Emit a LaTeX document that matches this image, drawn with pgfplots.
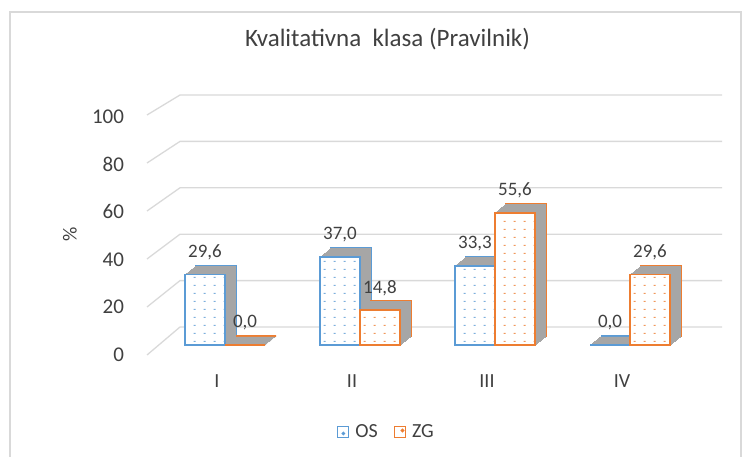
\documentclass[border=0pt]{standalone}
\usepackage{pgfplots}
\pgfplotsset{compat=1.18}
\usepackage{pgfplotstable}
\usepackage{fontspec}
\setmainfont{Carlito}
\usetikzlibrary{patterns.meta}
\definecolor{oscol}{HTML}{5B9BD5}
\definecolor{zgcol}{HTML}{ED7D31}
\definecolor{sidegray}{HTML}{A6A6A6}
\definecolor{gridc}{HTML}{D9D9D9}
\definecolor{txt}{HTML}{404040}
\definecolor{lbl}{HTML}{404040}
\tikzdeclarepattern{
  name=sdots,
  type=uncolored,
  bottom left={(0bp,0bp)},
  top right={(10bp,8bp)},
  tile size={(10bp,8bp)},
  code={\pgfpathrectangle{\pgfpoint{4bp}{3.4bp}}{\pgfpoint{2.2bp}{1.2bp}}\pgfusepath{fill}}
}
\pgfplotstableread{
x os zg
0 29.6 0.0
1 37.0 14.8
2 33.3 55.6
3 0.0 29.6
}\datatable

\begin{document}
\begin{tikzpicture}
\useasboundingbox (0,0) rectangle (751bp,-457bp);
\draw[gridc, line width=1.2bp] (10bp,-12bp) rectangle (741bp,-480bp);
\foreach \v in {0,20,...,100}{
  \draw[gridc, line width=1.3bp] (147bp,{-(355-2.4*\v)*1bp}) -- (180bp,{-(327-2.32*\v)*1bp}) -- (722bp,{-(327-2.32*\v)*1bp});
}
\begin{axis}[
  at={(130.5bp,-345bp)}, anchor=south west,
  scale only axis, width=594bp, height=238bp,
  xmin=-0.7, xmax=3.7, ymin=0, ymax=100,
  axis line style={draw=none}, major tick length=0pt,
  xtick={0,1,2,3}, xticklabels={I,II,III,IV},
  ytick={0,20,...,100},
  xticklabel style={anchor=center, xshift=-8bp, yshift=-36bp, font=\fontsize{20bp}{24bp}\selectfont, text=txt},
  yticklabel style={anchor=east, xshift=-3bp, yshift=-9.5bp, font=\fontsize{21bp}{24bp}\selectfont, text=txt},
  /pgf/number format/assume math mode=true,
  clip=false,
  title={Kvalitativna\ \ klasa (Pravilnik)},
  title style={at={(axis description cs:0.4327,1.2605)}, anchor=center, font=\fontsize{25bp}{28bp}\selectfont, text=txt},
  ylabel={\%},
  every axis y label/.style={at={(axis description cs:-0.102,0.4643)}, rotate=90, anchor=center, font=\fontsize{20bp}{24bp}\selectfont, text=txt},
  legend columns=2,
  legend style={at={(axis description cs:0.431,-0.3655)}, anchor=center, draw=none, fill=none, font=\fontsize{20bp}{24bp}\selectfont, text=txt,
    /tikz/every odd column/.append style={column sep=4bp},
    /tikz/every even column/.append style={column sep=14bp}},
  nodes near coords={\pgfmathprintnumber[fixed,fixed zerofill,precision=1,use comma]{\pgfplotspointmeta}},
  nodes near coords style={anchor=center, yshift=22bp, font=\fontsize{19bp}{22bp}\selectfont, text=lbl},
]
% ---- OS extrusion
\addplot[ybar, bar width=40bp, bar shift=-20bp, fill=sidegray, draw=oscol, line width=1.4bp, xshift=11bp, yshift=9bp, forget plot, nodes near coords={}] table[x=x,y=os]{\datatable};
\pgfplotsinvokeforeach{10,9,...,1}{
\addplot[ybar, bar width=40bp, bar shift=-20bp, fill=sidegray, draw=sidegray, line width=0.6bp, xshift=#1*1.0bp, yshift=#1*0.818bp, forget plot, nodes near coords={}] table[x=x,y=os]{\datatable};
}
% ---- OS front
\addplot[ybar, bar width=40bp, bar shift=-20bp, fill=white, draw=none, forget plot, nodes near coords={}] table[x=x,y=os]{\datatable};
\addplot[ybar, bar width=40bp, bar shift=-20bp, pattern=sdots, pattern color=oscol!80, draw=oscol, line width=1.8bp,
  nodes near coords style={xshift=-20bp},
  legend image code/.code={\draw[oscol, line width=1.2bp, fill=white] (0bp,-5.5bp) rectangle (11bp,5.5bp); \fill[oscol] (5.5bp,-1.5bp) circle (0.8bp);}] table[x=x,y=os]{\datatable};
\addlegendentry{OS}
% ---- ZG extrusion
\addplot[ybar, bar width=40bp, bar shift=20bp, fill=sidegray, draw=zgcol, line width=1.4bp, xshift=11bp, yshift=9bp, forget plot, nodes near coords={}] table[x=x,y=zg]{\datatable};
\pgfplotsinvokeforeach{10,9,...,1}{
\addplot[ybar, bar width=40bp, bar shift=20bp, fill=sidegray, draw=sidegray, line width=0.6bp, xshift=#1*1.0bp, yshift=#1*0.818bp, forget plot, nodes near coords={}] table[x=x,y=zg]{\datatable};
}
% ---- ZG front
\addplot[ybar, bar width=40bp, bar shift=20bp, fill=white, draw=none, forget plot, nodes near coords={}] table[x=x,y=zg]{\datatable};
\addplot[ybar, bar width=40bp, bar shift=20bp, pattern=sdots, pattern color=zgcol!80, draw=zgcol, line width=1.8bp,
  nodes near coords style={xshift=20bp},
  legend image code/.code={\draw[zgcol, line width=1.2bp, fill=white] (0bp,-5.5bp) rectangle (11bp,5.5bp); \fill[zgcol] (8bp,1.5bp) circle (0.8bp);}] table[x=x,y=zg]{\datatable};
\addlegendentry{ZG}
\end{axis}
\end{tikzpicture}
\end{document}
